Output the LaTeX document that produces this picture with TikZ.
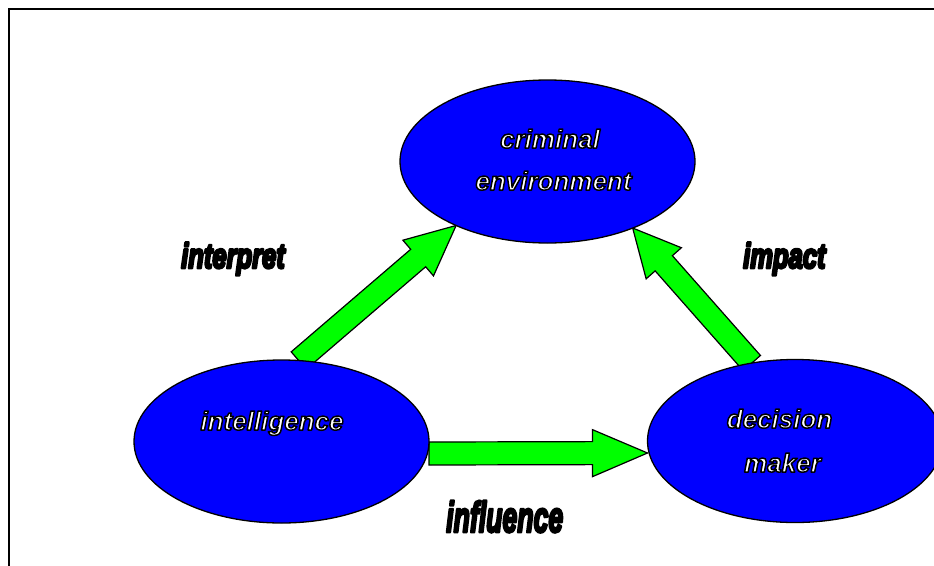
\documentclass[tikz,border=0pt]{standalone}
\usepackage{fontspec}
\setmainfont{Liberation Sans}
\newfontfamily\ellfont{Liberation Sans}
\newfontfamily\labfont{Liberation Sans}
\usetikzlibrary{shapes.geometric,calc,backgrounds}
\definecolor{ellblue}{RGB}{0,0,255}
\definecolor{arrgreen}{RGB}{0,255,0}
\newcommand{\otext}[1]{\special{pdf:literal direct 2 Tr 1.5 w 1 j 0 G 1 g}#1\special{pdf:literal direct 0 Tr 1 w 0 j}}
\newcommand{\heavytext}[1]{\special{pdf:literal direct 2 Tr 2.8 w 1 j 0 G 0 g}#1\special{pdf:literal direct 0 Tr 1 w 0 j}}
\newcommand{\blockarrow}[3]{%
  \path ($(#2)!#3!(#1)$) coordinate (bb);
  \draw[barr] ($(#1)!11.5pt!90:(#2)$) -- ($(bb)!11.5pt!90:(#2)$) -- ($(bb)!23.5pt!90:(#2)$) -- (#2) -- ($(bb)!23.5pt!-90:(#2)$) -- ($(bb)!11.5pt!-90:(#2)$) -- ($(#1)!11.5pt!-90:(#2)$) -- cycle;}
\tikzset{
  ell/.style={ellipse, draw=black, line width=1.3pt, fill=ellblue, minimum width=295pt, minimum height=163pt, inner sep=0pt, outer sep=0pt},
  etext/.style={font=\ellfont\bfseries\itshape\fontsize{26}{30}\selectfont, text=white, inner sep=0pt, anchor=base},
  lab/.style={inner sep=0pt, anchor=base west, text=black},
  barr/.style={draw=black, line width=1.2pt, fill=arrgreen, line join=miter}
}
\begin{document}
\begin{tikzpicture}[x=1pt,y=-1pt]
\clip (0,0) rectangle (934,565);
\draw[line width=2pt] (9,9) rectangle (960,600);
\node[ell] (crim) at (547.5,161.5) {};
\node[ell] (intel) at (281.5,441.5) {};
\node[ell] (dec) at (795,441) {};
\coordinate (a1s) at (intel.78);
\coordinate (a1e) at (crim.215);
\coordinate (a2s) at (dec.119);
\coordinate (a2e) at (crim.322);
\coordinate (a3s) at ($(intel.east)+(0,12)$);
\coordinate (a3e) at ($(dec.west)+(0,12)$);
\begin{scope}[on background layer]
\blockarrow{a1s}{a1e}{50pt}
\blockarrow{a2s}{a2e}{47pt}
\blockarrow{a3s}{a3e}{55pt}
\end{scope}
\node[etext] (t1) at (550,148) {\otext{criminal}};
\node[etext] (t2) at (553.5,190) {\otext{environment}};
\node[etext] (t3) at (272,430) {\otext{intelligence}};
\node[etext] (t4) at (779.5,428) {\otext{decision}};
\node[etext] (t5) at (782.5,472) {\otext{maker}};
\node[lab, font=\labfont\bfseries\itshape\fontsize{35}{38}\selectfont] (l1) at (181,268) {\scalebox{0.73}[1]{\heavytext{interpret}}};
\node[lab, font=\labfont\bfseries\itshape\fontsize{35}{38}\selectfont] (l2) at (743,268) {\scalebox{0.73}[1]{\heavytext{impact}}};
\node[lab, font=\labfont\bfseries\itshape\fontsize{43}{46}\selectfont] (l3) at (446,532) {\scalebox{0.62}[1]{\heavytext{influence}}};
\end{tikzpicture}
\end{document}
